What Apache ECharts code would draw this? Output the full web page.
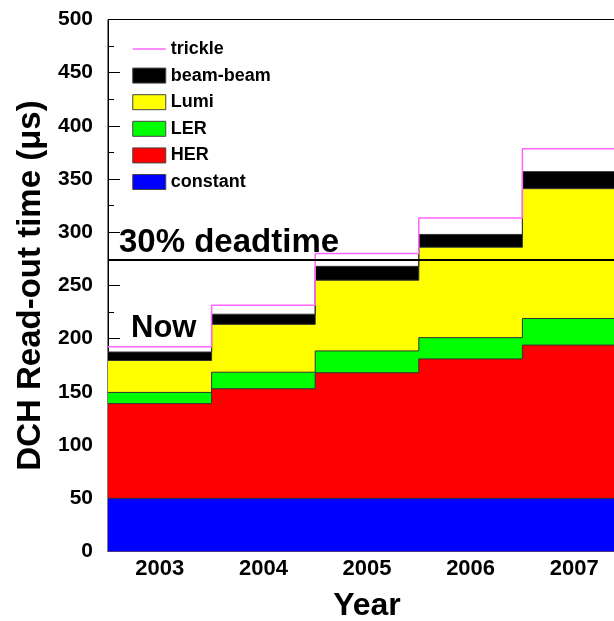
<!DOCTYPE html>
<html><head><meta charset="utf-8">
<script src="https://cdn.jsdelivr.net/npm/echarts@6/dist/echarts.min.js"></script>
<style>html,body{margin:0;padding:0;background:#fff}#c{width:614px;height:621px}</style>
</head><body><div id="c"></div>
<script>
// ---- data ----
const years    = [2003, 2004, 2005, 2006, 2007];
const constant = [50, 50, 50, 50, 50];
const her      = [89, 103, 118, 131, 144];
const ler      = [10.5, 15.5, 20.5, 20, 25];
const lumi     = [30, 45, 66.5, 85, 122];
const beamBeam = [8, 9.5, 13, 12, 16];
const trickle  = [5, 8.5, 12, 15.5, 21.5];
const deadtime30 = 274;
const seriesNames = ['trickle', 'beam-beam', 'Lumi', 'LER', 'HER', 'constant'];

// ---- build stacked cumulative step data ----
function addArr(a, b) { return a.map((v, i) => v + b[i]); }
const cConst = constant.slice();
const cHer   = addArr(cConst, her);
const cLer   = addArr(cHer, ler);
const cLumi  = addArr(cLer, lumi);
const cBB    = addArr(cLumi, beamBeam);
const cTr    = addArr(cBB, trickle);
function stepData(vals) {
  const d = years.map((y, i) => [y - 0.5, vals[i]]);
  d.push([years[years.length - 1] + 0.5, vals[vals.length - 1]]);
  return d;
}
const xMin = years[0] - 0.5, xMax = years[years.length - 1] + 0.5;
const minorX = [];
for (let k = 1; xMin + k * 0.2 < xMax; k++) {
  const v = Math.round((xMin + k * 0.2) * 10) / 10;
  if (Math.abs(v - Math.round(v)) > 1e-6) minorX.push(v);
}

const FONT = '"Liberation Sans", Arial, Helvetica, sans-serif';
function fillSeries(name, vals, color) {
  return {
    name, type: 'line', step: 'end', data: stepData(vals),
    symbol: 'none', showSymbol: false, silent: true,
    lineStyle: { color: '#333', width: 1 },
    itemStyle: { color },
    areaStyle: { color, opacity: 1, origin: 'start' }
  };
}

const chart = echarts.init(document.getElementById('c'), null, { renderer: 'canvas' });
chart.setOption({
  animation: false,
  backgroundColor: '#fff',
  grid: { left: 108, top: 19.5, width: 518, height: 532, outerBoundsMode: 'none', containLabel: false,
          show: true, borderColor: '#000', borderWidth: 1, backgroundColor: 'transparent' },
  legend: {
    orient: 'vertical', left: 127, top: 35, itemWidth: 33, itemHeight: 15, itemGap: 8.6,
    textStyle: { fontFamily: FONT, fontWeight: 'bold', fontSize: 18, color: '#000' },
    itemStyle: { borderColor: '#444', borderWidth: 1 },
    data: [
      { name: 'trickle', itemStyle: { opacity: 0 }, lineStyle: { color: '#ff66ff', width: 1.5 } },
      { name: 'beam-beam', icon: 'rect' },
      { name: 'Lumi', icon: 'rect' },
      { name: 'LER', icon: 'rect' },
      { name: 'HER', icon: 'rect' },
      { name: 'constant', icon: 'rect' }
    ]
  },
  xAxis: [{
    type: 'value', min: xMin, max: xMax, position: 'bottom',
    axisLine: { show: true, lineStyle: { color: '#000', width: 1 } },
    axisTick: { show: true, inside: true, length: 6, customValues: minorX, lineStyle: { color: '#000' } },
    axisLabel: { customValues: years, formatter: v => String(v), fontFamily: FONT, fontWeight: 'bold', fontSize: 22, color: '#000', margin: 6 },
    splitLine: { show: false },
    name: 'Year', nameLocation: 'middle', nameGap: 39,
    nameTextStyle: { fontFamily: FONT, fontWeight: 'bold', fontSize: 32, color: '#000' }
  }, {
    type: 'value', min: xMin, max: xMax, position: 'bottom', gridIndex: 0,
    axisLine: { show: false },
    axisTick: { show: true, inside: true, length: 12, customValues: years, lineStyle: { color: '#000' } },
    axisLabel: { show: false },
    splitLine: { show: false }
  }],
  yAxis: {
    type: 'value', min: 0, max: 500, interval: 50,
    axisLine: { show: true, lineStyle: { color: '#000', width: 1 } },
    axisTick: { show: true, inside: true, length: 12, lineStyle: { color: '#000' } },
    minorTick: { show: true, splitNumber: 2, length: 6, lineStyle: { color: '#000' } },
    axisLabel: { fontFamily: FONT, fontWeight: 'bold', fontSize: 21, color: '#000', margin: 15 },
    splitLine: { show: false },
    name: 'DCH Read-out time (\u03bcs)', nameLocation: 'middle', nameGap: 58,
    nameTextStyle: { fontFamily: FONT, fontWeight: 'bold', fontSize: 33, color: '#000' }
  },
  series: [
    fillSeries('beam-beam', cBB, '#000000'),
    fillSeries('Lumi', cLumi, '#ffff00'),
    fillSeries('LER', cLer, '#00ff00'),
    fillSeries('HER', cHer, '#ff0000'),
    fillSeries('constant', cConst, '#0000ff'),
    {
      name: 'trickle', type: 'line', step: 'end', data: stepData(cTr),
      symbol: 'none', showSymbol: false, silent: true,
      lineStyle: { color: '#ff66ff', width: 1.5 }, itemStyle: { color: '#ff66ff' },
      markLine: {
        silent: true, symbol: 'none', label: { show: false },
        lineStyle: { color: '#000', width: 2, type: 'solid' },
        data: [{ yAxis: deadtime30 }]
      }
    }
  ],
  graphic: [
    { type: 'text', left: 119, top: 226, silent: true,
      style: { text: '30% deadtime', fontFamily: FONT, fontWeight: 'bold', fontSize: 33, fill: '#000' } },
    { type: 'text', left: 131, top: 313, silent: true,
      style: { text: 'Now', fontFamily: FONT, fontWeight: 'bold', fontSize: 31, fill: '#000' } }
  ]
});
</script></body></html>
